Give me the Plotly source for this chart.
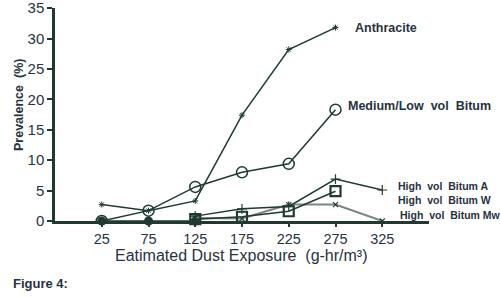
import plotly.graph_objects as go

anthracite_x = [25, 75, 125, 175, 225, 275]
anthracite_y = [2.7, 1.7, 3.3, 17.4, 28.2, 31.8]

medlow_x = [25, 75, 125, 175, 225, 275]
medlow_y = [0.0, 1.7, 5.6, 8.0, 9.4, 18.3]

hv_a_x = [125, 175, 225, 275, 325]
hv_a_y = [0.8, 2.0, 2.4, 6.9, 5.1]

hv_w_x = [125, 175, 225, 275]
hv_w_y = [0.3, 0.7, 1.6, 4.9]

hv_mw_x = [125, 175, 225, 275, 325]
hv_mw_y = [0.5, 0.4, 2.7, 2.7, 0.0]

base_x = [25, 75, 125]
base_y = [0.0, 0.0, 0.0]

labels = ["Anthracite", "Medium/Low&nbsp; vol&nbsp; Bitum", "High&nbsp; vol&nbsp; Bitum A",
          "High&nbsp; vol&nbsp; Bitum W", "High&nbsp; vol&nbsp; Bitum Mw"]

x_ticks = [25, 75, 125, 175, 225, 275, 325]
y_ticks = [0, 5, 10, 15, 20, 25, 30, 35]

DARK = "#1f3a33"
TXT = "#27323f"
FONT = "Liberation Sans, Arial, sans-serif"

fig = go.Figure()

fig.add_trace(go.Scatter(x=base_x, y=base_y, mode="lines+markers",
                         line=dict(color=DARK, width=1.5),
                         marker=dict(symbol="circle", size=9, color=DARK),
                         cliponaxis=False, showlegend=False))
fig.add_trace(go.Scatter(x=anthracite_x, y=anthracite_y, mode="lines+markers",
                         line=dict(color=DARK, width=1.5),
                         marker=dict(symbol="asterisk-open", size=5, color=DARK, line=dict(width=1, color=DARK)),
                         showlegend=False))
fig.add_trace(go.Scatter(x=medlow_x, y=medlow_y, mode="lines+markers",
                         line=dict(color=DARK, width=1.5),
                         marker=dict(symbol="circle-open", size=11, color=DARK, line=dict(width=1.5, color=DARK)),
                         showlegend=False))
fig.add_trace(go.Scatter(x=hv_mw_x, y=hv_mw_y, mode="lines+markers",
                         line=dict(color="#7d8580", width=2),
                         marker=dict(symbol="x-thin-open", size=5, color=DARK, line=dict(width=1.2, color=DARK)),
                         cliponaxis=False, showlegend=False))
fig.add_trace(go.Scatter(x=hv_a_x, y=hv_a_y, mode="lines+markers",
                         line=dict(color=DARK, width=1.5),
                         marker=dict(symbol="cross-thin-open", size=7, color=DARK, line=dict(width=1.2, color=DARK)),
                         showlegend=False))
fig.add_trace(go.Scatter(x=hv_w_x, y=hv_w_y, mode="lines+markers",
                         line=dict(color=DARK, width=1.5),
                         marker=dict(symbol="square-open", size=10, color=DARK, line=dict(width=2.2, color=DARK)),
                         cliponaxis=False, showlegend=False))

# label positions in paper pixels (left x, centre y)
ann = [
    dict(px=354, py=28, text=labels[0], size=12.5),
    dict(px=347, py=106, text=labels[1], size=12.5),
    dict(px=397, py=186, text=labels[2], size=10.5),
    dict(px=397, py=200, text=labels[3], size=10.5),
    dict(px=399, py=215, text=labels[4], size=10.5),
]
L, T, W, H = 55, 8, 374, 213
for a in ann:
    fig.add_annotation(xref="paper", yref="paper",
                       x=(a["px"] - L) / W, y=1 - (a["py"] - T) / H,
                       text="<b>" + a["text"] + "</b>",
                       showarrow=False, xanchor="left", yanchor="middle", borderpad=0,
                       font=dict(family=FONT, size=a["size"], color=TXT))

fig.add_annotation(xref="paper", yref="paper", x=(12 - L) / W, y=1 - (283 - T) / H,
                   text="<b>Figure 4:</b>", showarrow=False, borderpad=0,
                   xanchor="left", yanchor="middle",
                   font=dict(family=FONT, size=13, color=TXT))
fig.add_annotation(xref="paper", yref="paper", x=(241 - L) / W, y=1 - (255 - T) / H,
                   text="Eatimated Dust Exposure&nbsp; (g-hr/m³)", showarrow=False, borderpad=0,
                   xanchor="center", yanchor="middle",
                   font=dict(family=FONT, size=16, color=TXT))
fig.add_annotation(xref="paper", yref="paper", x=(19 - L) / W, y=1 - (105 - T) / H,
                   text="<b>Prevalence&nbsp; (%)</b>", showarrow=False, borderpad=0, textangle=-90,
                   xanchor="center", yanchor="middle",
                   font=dict(family=FONT, size=12.5, color=TXT))

fig.update_layout(
    width=501, height=298,
    margin=dict(l=L, r=501 - L - W, t=T, b=298 - T - H, autoexpand=False),
    paper_bgcolor="white", plot_bgcolor="white",
    font=dict(family=FONT, color=TXT),
    xaxis=dict(range=[-25, 375], tickvals=x_ticks, ticktext=[str(v) for v in x_ticks],
               showgrid=False, zeroline=False, showline=True, linecolor=DARK, linewidth=3,
               ticks="outside", ticklen=3, tickwidth=1.5, tickcolor=DARK, automargin=False,
               ticklabeloverflow="allow",
               tickfont=dict(size=14.5, color=TXT)),
    yaxis=dict(range=[0, 35.02], tickvals=y_ticks, showgrid=False, zeroline=False,
               showline=True, linecolor=DARK, linewidth=2.5, automargin=False,
               ticklabeloverflow="allow",
               ticks="outside", ticklen=5, tickwidth=2, tickcolor=DARK,
               tickfont=dict(size=15, color=TXT)),
)

fig.write_html("out.html", config={"displayModeBar": False},
               post_script="document.body.style.margin='0';document.body.style.overflow='hidden';")
